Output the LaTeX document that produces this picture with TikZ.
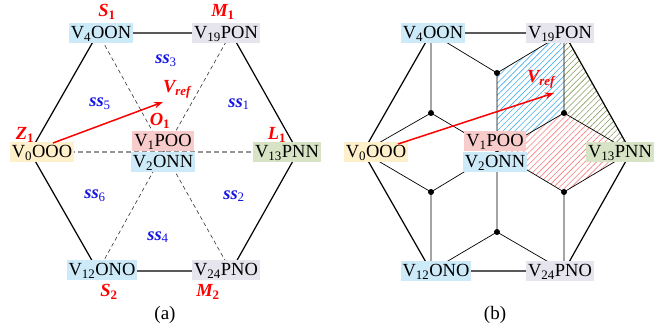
\documentclass[tikz,border=0pt]{standalone}
\usepackage{fontspec}
\setmainfont{Liberation Serif}
\usetikzlibrary{patterns.meta,arrows.meta}
\definecolor{bxblue}{RGB}{205,234,248}
\definecolor{bxgray}{RGB}{230,228,236}
\definecolor{bxcream}{RGB}{255,240,204}
\definecolor{bxpink}{RGB}{249,204,204}
\definecolor{bxgreen}{RGB}{215,227,196}
\definecolor{hblue}{RGB}{70,175,235}
\definecolor{hred}{RGB}{245,125,125}
\definecolor{hgreen}{RGB}{135,155,95}
\definecolor{lblblue}{RGB}{20,20,230}
\definecolor{dashgray}{RGB}{150,150,150}
\tikzset{
  vbox/.style={font=\fontsize{18.5}{21}\selectfont, inner xsep=2pt, inner ysep=0pt, text height=16pt, text depth=4.5pt},
  redlbl/.style={font=\fontsize{18.5}{21}\selectfont\bfseries\itshape, text=red, inner sep=0pt},
  sslbl/.style={font=\fontsize{18.5}{21}\selectfont, text=lblblue, inner sep=0pt},
  caplbl/.style={font=\fontsize{19}{22}\selectfont, inner sep=0pt},
  hexedge/.style={line width=1.2pt, black},
  graydash/.style={line width=1.2pt, dashgray, dash pattern=on 5pt off 3pt},
  thindash/.style={line width=0.6pt, black!80, dash pattern=on 4pt off 3pt},
  thinline/.style={line width=0.7pt, black},
  vecarrow/.style={line width=1.5pt, red, -{Stealth[length=9pt,width=6.5pt]}},
  hdot/.style={circle, fill=black, inner sep=0pt, minimum size=6pt},
  hatchblue/.style={pattern={Lines[angle=45,distance=4.2pt,line width=0.6pt]}, pattern color=hblue},
  hatchred/.style={pattern={Lines[angle=45,distance=4.2pt,line width=0.6pt]}, pattern color=hred},
  hatchgreen/.style={pattern={Lines[angle=45,distance=4.2pt,line width=0.6pt]}, pattern color=hgreen},
}
\begin{document}
\begin{tikzpicture}[x=1pt,y=-1pt]
\useasboundingbox (0,0) rectangle (671,331);
% ---------- panel (a) coordinates
\coordinate (aC) at (164,152);
\coordinate (aL) at (30,152);
\coordinate (aR) at (298,152);
\coordinate (aTL) at (98,33);
\coordinate (aTR) at (231,33);
\coordinate (aBL) at (98,271);
\coordinate (aBR) at (231,271);
% ---------- panel (b) coordinates
\coordinate (bC) at (497,152);
\coordinate (bL) at (363,152);
\coordinate (bR) at (631,152);
\coordinate (bTL) at (431,33);
\coordinate (bTR) at (564,33);
\coordinate (bBL) at (431,271);
\coordinate (bBR) at (564,271);
\coordinate (bT) at (497,73);
\coordinate (bUL) at (431,113);
\coordinate (bUR) at (564,113);
\coordinate (bLL) at (431,192);
\coordinate (bLR) at (564,192);
\coordinate (bB) at (497,232);
% ---------- (a) lines
\draw[graydash] (aL) -- (aC) -- (aR);
\draw[thindash] (aTL) -- (aC) -- (aTR);
\draw[thindash] (aBL) -- (aC) -- (aBR);
\draw[hexedge] (aTL) -- (aTR) -- (aR) -- (aBR) -- (aBL) -- (aL) -- cycle;
% ---------- (b) hatched regions
\fill[hatchblue] (bT) -- (bTR) -- (bUR) -- (bC) -- cycle;
\fill[hatchred] (bC) -- (bUR) -- (bR) -- (bLR) -- cycle;
\fill[hatchgreen] (bTR) -- (bR) -- (bUR) -- cycle;
% ---------- (b) lines
\draw[thinline] (bUL) -- (bTL) (bUL) -- (bL) (bUL) -- (bC);
\draw[thinline] (bT) -- (bTL) (bT) -- (bTR) (bT) -- (bC);
\draw[thinline] (bUR) -- (bTR) (bUR) -- (bR) (bUR) -- (bC);
\draw[thinline] (bLR) -- (bR) (bLR) -- (bBR) (bLR) -- (bC);
\draw[thinline] (bB) -- (bBR) (bB) -- (bBL) (bB) -- (bC);
\draw[thinline] (bLL) -- (bBL) (bLL) -- (bL) (bLL) -- (bC);
\draw[hexedge] (bTL) -- (bTR) -- (bR) -- (bBR) -- (bBL) -- (bL) -- cycle;
\foreach \p in {bT,bUL,bUR,bLL,bLR,bB} \node[hdot] (d\p) at (\p) {};
% ---------- (a) nodes
\node[vbox,fill=bxblue]  (a4)  at (101,33)  {V\textsubscript{4}OON};
\node[vbox,fill=bxgray]  (a19) at (226,33)  {V\textsubscript{19}PON};
\node[vbox,fill=bxcream] (a0)  at (42,152)  {V\textsubscript{0}OOO};
\node[vbox,fill=bxpink]  (a1)  at (163,141) {V\textsubscript{1}POO};
\node[vbox,fill=bxblue]  (a2)  at (163,162) {V\textsubscript{2}ONN};
\node[vbox,fill=bxgreen] (a13) at (287,152) {V\textsubscript{13}PNN};
\node[vbox,fill=bxblue]  (a12) at (102,270) {V\textsubscript{12}ONO};
\node[vbox,fill=bxgray]  (a24) at (226,270) {V\textsubscript{24}PNO};
% ---------- (b) nodes
\node[vbox,fill=bxblue]  (b4)  at (433,33)  {V\textsubscript{4}OON};
\node[vbox,fill=bxgray]  (b19) at (560,33)  {V\textsubscript{19}PON};
\node[vbox,fill=bxcream] (b0)  at (376,152) {V\textsubscript{0}OOO};
\node[vbox,fill=bxpink]  (b1)  at (495,141) {V\textsubscript{1}POO};
\node[vbox,fill=bxblue]  (b2)  at (495,162) {V\textsubscript{2}ONN};
\node[vbox,fill=bxgreen] (b13) at (620,152) {V\textsubscript{13}PNN};
\node[vbox,fill=bxblue]  (b12) at (436,271) {V\textsubscript{12}ONO};
\node[vbox,fill=bxgray]  (b24) at (560,271) {V\textsubscript{24}PNO};
% ---------- (a) labels
\node[redlbl] (lS1) at (107,12)  {S\textsubscript{\upshape 1}};
\node[redlbl] (lM1) at (223,12)  {M\textsubscript{\upshape 1}};
\node[redlbl] (lZ1) at (25,135)  {Z\textsubscript{\upshape 1}};
\node[redlbl] (lO1) at (160,121) {O\textsubscript{\upshape 1}};
\node[redlbl] (lL1) at (277,135) {L\textsubscript{\upshape 1}};
\node[redlbl] (lS2) at (109,292) {S\textsubscript{\upshape 2}};
\node[redlbl] (lM2) at (208,292) {M\textsubscript{\upshape 2}};
\node[sslbl] (s3) at (166,61)  {\textbf{\textit{ss}}\textsubscript{3}};
\node[sslbl] (s5) at (100,104) {\textbf{\textit{ss}}\textsubscript{5}};
\node[sslbl] (s1) at (239,104) {\textbf{\textit{ss}}\textsubscript{1}};
\node[sslbl] (s6) at (95,196)  {\textbf{\textit{ss}}\textsubscript{6}};
\node[sslbl] (s2) at (234,196) {\textbf{\textit{ss}}\textsubscript{2}};
\node[sslbl] (s4) at (158,237) {\textbf{\textit{ss}}\textsubscript{4}};
% ---------- vectors
\coordinate (aVs) at (53,143);
\coordinate (aVe) at (163,102);
\draw[vecarrow] (aVs) -- (aVe);
\node[redlbl] (aVref) at (177,89) {V\textsubscript{ref}};
\coordinate (bVs) at (398,144);
\coordinate (bVe) at (554,93);
\draw[vecarrow] (bVs) -- (bVe);
\node[redlbl] (bVref) at (541,79) {V\textsubscript{ref}};
% ---------- captions
\node[caplbl] (capa) at (165,315) {(a)};
\node[caplbl] (capb) at (495,315) {(b)};
\end{tikzpicture}
\end{document}
